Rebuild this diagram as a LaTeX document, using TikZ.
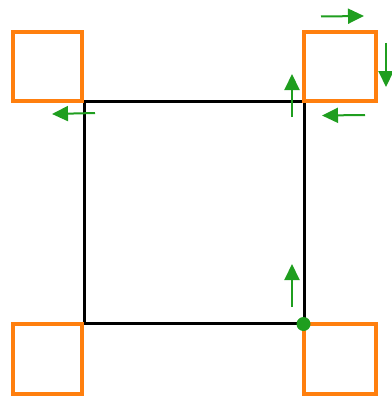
\documentclass[tikz,border=0pt]{standalone}
\usetikzlibrary{arrows.meta}
\definecolor{myorange}{HTML}{FF7F0E}
\definecolor{mygreen}{HTML}{1F9E1F}
\tikzset{
  obox/.style={draw=myorange, line width=4pt},
  bbox/.style={draw=black, line width=3pt},
  garrow/.style={draw=mygreen, line width=2pt, -{Triangle[length=16pt,width=15pt]}}
}
\begin{document}
\begin{tikzpicture}[x=1pt,y=-1pt]
\useasboundingbox (0,0) rectangle (391,396);
% main square
\draw[bbox] (84.5,101.5) rectangle (304,323);
% orange squares
\draw[obox] (13,32) rectangle (82,101);
\draw[obox] (304,32) rectangle (375.5,101);
\draw[obox] (13,324) rectangle (82,393.5);
\draw[obox] (304,324) rectangle (375.5,393.5);
% green dot
\fill[mygreen] (303.5,324) circle (7pt);
% arrows
\coordinate (a1s) at (321,16.5); \coordinate (a1e) at (364,16);
\coordinate (a2s) at (386,43); \coordinate (a2e) at (386,87);
\coordinate (a3s) at (365,115); \coordinate (a3e) at (322,115.5);
\coordinate (a4s) at (292,117); \coordinate (a4e) at (292,74);
\coordinate (a5s) at (95,113); \coordinate (a5e) at (52,114);
\coordinate (a6s) at (292,307); \coordinate (a6e) at (292,264);
\draw[garrow] (a1s) -- (a1e);
\draw[garrow] (a2s) -- (a2e);
\draw[garrow] (a3s) -- (a3e);
\draw[garrow] (a4s) -- (a4e);
\draw[garrow] (a5s) -- (a5e);
\draw[garrow] (a6s) -- (a6e);
\end{tikzpicture}
\end{document}
